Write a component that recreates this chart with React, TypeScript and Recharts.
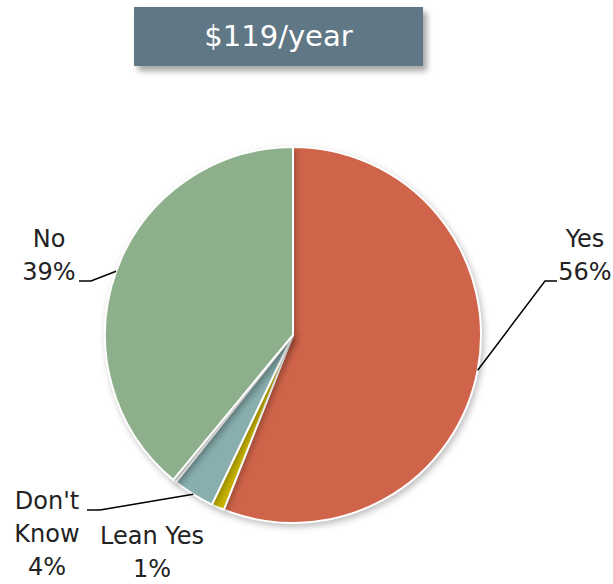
import React from 'react';
import { PieChart, Pie, Cell } from 'recharts';

const categories = ['Yes', 'Lean Yes', "Don't Know", 'Lean No', 'No'];
const shares = [56, 1.1, 3.6, 0.3, 39];
const labelLines = [['Yes', '56%'], ['Lean Yes', '1%'], ["Don't", 'Know', '4%'], [], ['No', '39%']];
const colors = ['#D0644A', '#C8B400', '#88AEAE', '#DADFDA', '#8EAF8B'];

const data = categories.map((name, i) => ({ name, value: shares[i] }));

// label placement: text centre x, first baseline y, and the elbow of the leader line
const labelLayout: Record<string, { x: number; y: number; elbow?: [number, number]; tail?: number }> = {
  Yes: { x: 585, y: 247, elbow: [545, 281], tail: 557 },
  'Lean Yes': { x: 152, y: 544 },
  "Don't Know": { x: 47, y: 509, elbow: [100, 510], tail: 87 },
  No: { x: 49, y: 247, elbow: [91, 281], tail: 79 },
};

const RADIAN = Math.PI / 180;
const FONT = '"DejaVu Sans", sans-serif';

function renderLabel(props: any) {
  const { cx, cy, midAngle, outerRadius, index } = props;
  const name = categories[index];
  const layout = labelLayout[name];
  if (!layout) return null;
  const ex = cx + outerRadius * Math.cos(-midAngle * RADIAN);
  const ey = cy + outerRadius * Math.sin(-midAngle * RADIAN);
  const lines = labelLines[index];
  return (
    <g>
      {layout.elbow && (
        <polyline
          points={`${ex},${ey} ${layout.elbow[0]},${layout.elbow[1]} ${layout.tail},${layout.elbow[1]}`}
          fill="none"
          stroke="#000"
          strokeWidth={1.5}
        />
      )}
      <text x={layout.x} y={layout.y} textAnchor="middle" fontFamily={FONT} fontSize={24} fill="#222">
        {lines.map((t, i) => (
          <tspan key={i} x={layout.x} dy={i === 0 ? 0 : 33}>
            {t}
          </tspan>
        ))}
      </text>
    </g>
  );
}

export default function App() {
  return (
    <div style={{ position: 'absolute', left: 0, top: 0, width: 613, height: 584, background: '#fff' }}>
      <div
        style={{
          position: 'absolute',
          left: 134,
          top: 7,
          width: 289,
          height: 59,
          background: '#607785',
          boxShadow: '4px 5px 6px rgba(0,0,0,0.35)',
          color: '#fff',
          fontFamily: FONT,
          fontSize: 29,
          lineHeight: '59px',
          textAlign: 'center',
        }}
      >
        $119/year
      </div>
      <PieChart width={613} height={584} margin={{ top: 0, right: 0, bottom: 0, left: 0 }}>
        <Pie
          data={data}
          dataKey="value"
          nameKey="name"
          cx={293}
          cy={335}
          outerRadius={188}
          startAngle={90}
          endAngle={-270}
          stroke="#fff"
          strokeWidth={2}
          label={renderLabel}
          labelLine={false}
          isAnimationActive={false}
          style={{ filter: 'drop-shadow(2px 3px 3px rgba(0,0,0,0.25))' }}
        >
          {data.map((d, i) => (
            <Cell key={d.name} fill={colors[i]} />
          ))}
        </Pie>
      </PieChart>
    </div>
  );
}
